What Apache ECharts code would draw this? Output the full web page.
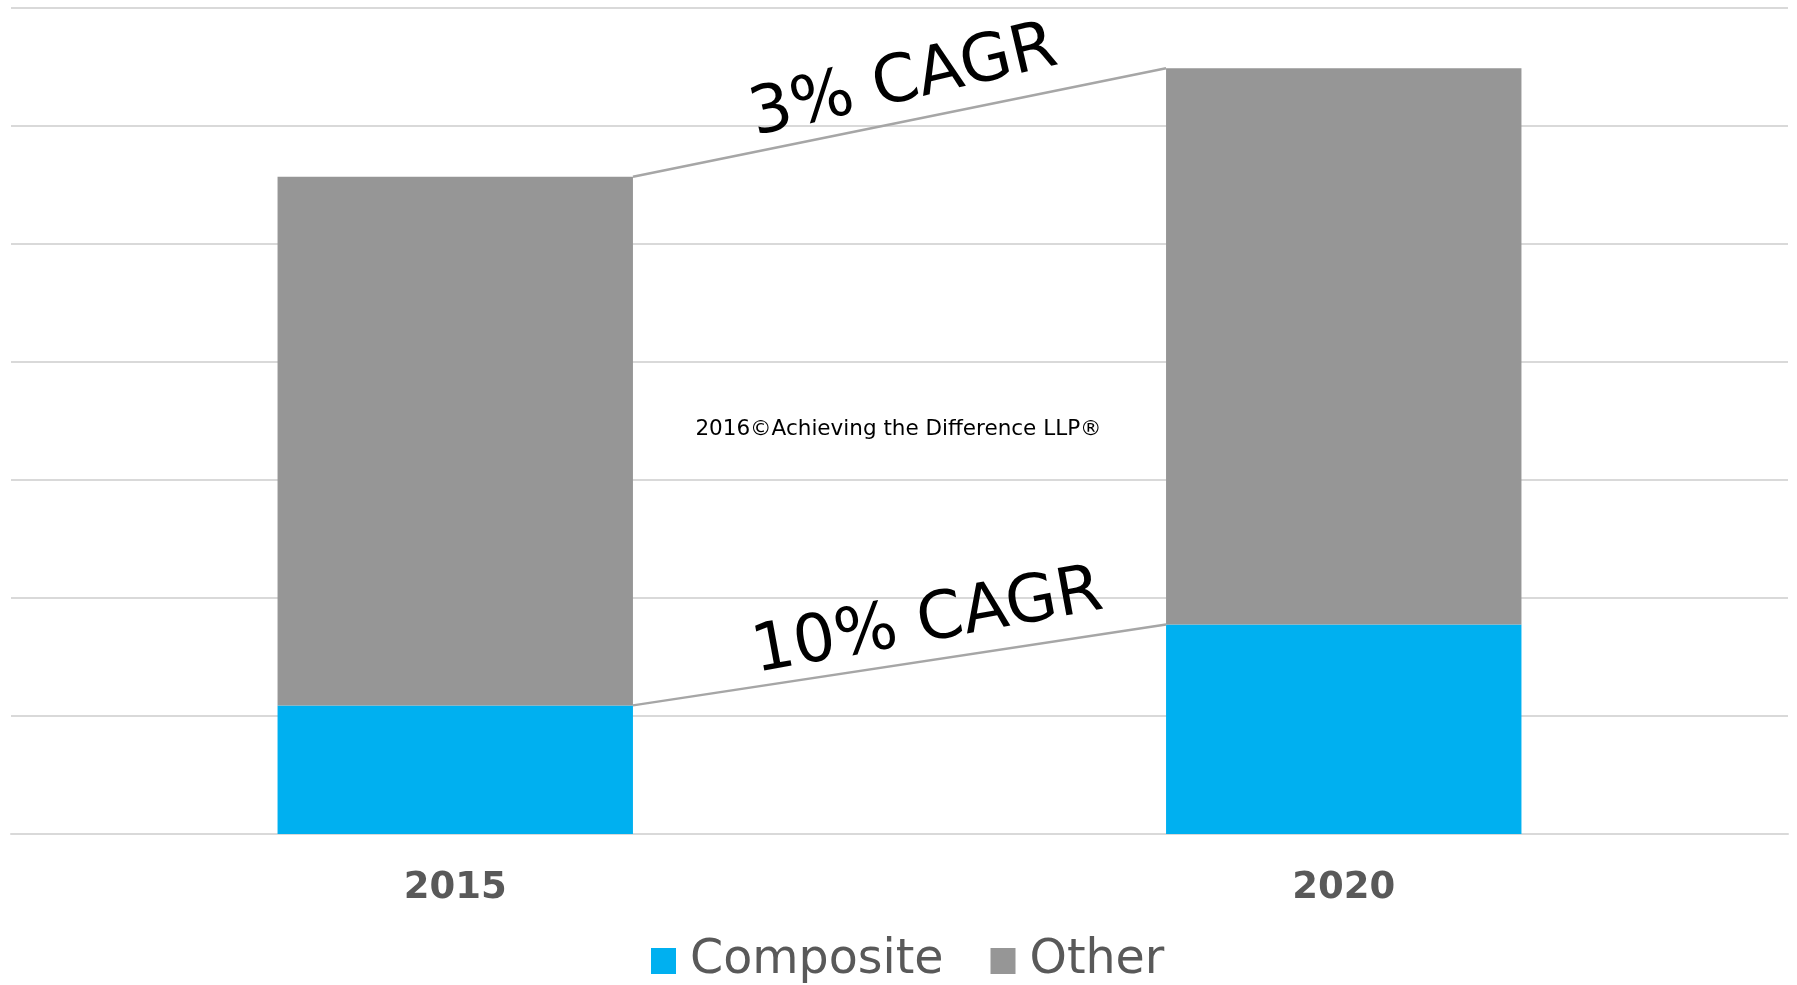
<!DOCTYPE html>
<html>
<head>
<meta charset="utf-8">
<script src="https://cdn.jsdelivr.net/npm/echarts@6/dist/echarts.min.js"></script>
<style>
html,body{margin:0;padding:0;background:#fff;}
#c{width:1797px;height:985px;}
</style>
</head>
<body>
<div id="c"></div>
<script>
var categories = ['2015', '2020'];
var composite = [1.09, 1.775];
var other = [4.48, 4.715];
var cagrLabels = ['10% CAGR', '3% CAGR'];
var watermark = '2016\u00A9Achieving the Difference LLP\u00AE';

var totals = categories.map(function (c, i) { return composite[i] + other[i]; });
var connectorData = [
  [0, composite[0], composite[1]],
  [1, totals[0], totals[1]]
];

var FONT = 'DejaVu Sans, Verdana, sans-serif';
var labelAlong = [34, 12];
var labelOff = [37, 38];
var chart = echarts.init(document.getElementById('c'));

chart.setOption({
  animation: false,
  grid: { left: 11, right: 9, top: 8, bottom: 151, containLabel: false },
  legend: {
    data: ['Composite', 'Other'],
    left: 646,
    top: 932,
    icon: 'rect',
    itemWidth: 25,
    itemHeight: 26,
    itemGap: 47,
    textStyle: { fontFamily: FONT, fontSize: 47.5, color: '#595959', padding: [0, 0, 0, 9] }
  },
  xAxis: {
    type: 'category',
    data: categories,
    axisLine: { lineStyle: { color: '#d9d9d9', width: 2 } },
    axisTick: { show: false },
    axisLabel: { fontFamily: FONT, fontSize: 37, fontWeight: 'bold', color: '#595959', margin: 36 }
  },
  yAxis: {
    type: 'value',
    min: 0,
    max: 7,
    interval: 1,
    axisLabel: { show: false },
    axisLine: { show: false },
    axisTick: { show: false },
    splitLine: { lineStyle: { color: '#d9d9d9', width: 2 } }
  },
  graphic: [{
    type: 'text',
    left: 'center',
    top: 418,
    style: { text: watermark, fontFamily: FONT, fontSize: 21.5, fill: '#000' }
  }],
  series: [
    {
      name: 'Composite', type: 'bar', stack: 'a', data: composite,
      barWidth: '40%', itemStyle: { color: '#00B0F0' }
    },
    {
      name: 'Other', type: 'bar', stack: 'a', data: other,
      barWidth: '40%', itemStyle: { color: '#969696' }
    },
    {
      type: 'custom',
      data: connectorData,
      encode: { x: 0, y: 1 },
      z: 5,
      silent: true,
      renderItem: function (params, api) {
        var lvl = api.value(0);
        var p0 = api.coord([0, api.value(1)]);
        var p1 = api.coord([1, api.value(2)]);
        var band = api.size([1, 0])[0];
        var half = band * 0.2;
        var x0 = p0[0] + half, y0 = p0[1];
        var x1 = p1[0] - half, y1 = p1[1];
        var ang = Math.atan2(y0 - y1, x1 - x0);
        var mx = (x0 + x1) / 2, my = (y0 + y1) / 2;
        var off = labelOff[lvl], along = labelAlong[lvl];
        var tx = mx - off * Math.sin(ang) + along * Math.cos(ang);
        var ty = my - off * Math.cos(ang) - along * Math.sin(ang);
        return {
          type: 'group',
          children: [
            {
              type: 'line',
              shape: { x1: x0, y1: y0, x2: x1, y2: y1 },
              style: { stroke: '#a6a6a6', lineWidth: 2.5 }
            },
            {
              type: 'text',
              x: tx, y: ty,
              rotation: ang + 0.03,
              style: {
                text: cagrLabels[lvl],
                fontFamily: FONT, fontSize: 66, fill: '#000',
                align: 'center', verticalAlign: 'middle'
              }
            }
          ]
        };
      }
    }
  ]
});
</script>
</body>
</html>
